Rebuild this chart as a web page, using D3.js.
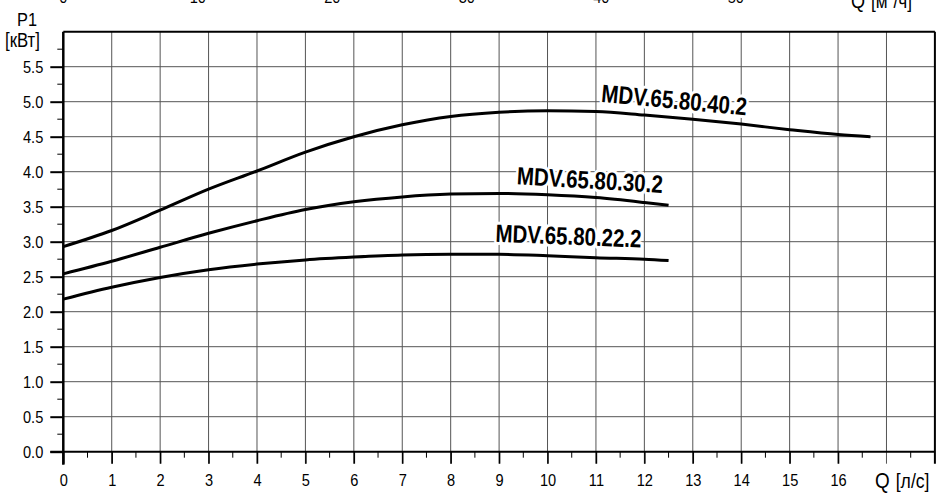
<!DOCTYPE html>
<html>
<head>
<meta charset="utf-8">
<script src="https://cdn.jsdelivr.net/npm/d3@7"></script>
<style>
  html, body { margin: 0; padding: 0; background: #fff; }
  svg { display: block; }
  text { font-family: "Liberation Sans", Arial, sans-serif; fill: #000; }
</style>
</head>
<body>
<svg id="chart" width="937" height="497"></svg>
<script>
// ---- data ----
const flowLs = [0, 1, 2, 3, 4, 5, 6, 7, 8, 9, 10, 11, 12, 12.5];
const flowLs40 = [0, 1, 2, 3, 4, 5, 6, 7, 8, 9, 10, 11, 12, 13, 14, 15, 16, 16.67];
const power40 = [2.93, 3.16, 3.45, 3.75, 4.01, 4.28, 4.50, 4.67, 4.79, 4.85, 4.87, 4.86, 4.81, 4.75, 4.68, 4.60, 4.53, 4.50];
const power30 = [2.54, 2.72, 2.92, 3.12, 3.30, 3.46, 3.57, 3.64, 3.68, 3.69, 3.67, 3.63, 3.56, 3.52];
const power22 = [2.18, 2.35, 2.49, 2.60, 2.68, 2.74, 2.78, 2.81, 2.82, 2.82, 2.80, 2.77, 2.75, 2.73];
const seriesNames = ["MDV.65.80.40.2", "MDV.65.80.30.2", "MDV.65.80.22.2"];
const xTicks = [0,1,2,3,4,5,6,7,8,9,10,11,12,13,14,15,16];
const xMinorTicks = [0.5,1.5,2.5,3.5,4.5,5.5,6.5,7.5,8.5,9.5,10.5,11.5,12.5,13.5,14.5,15.5,16.5,17.5];
const yTicks = [0,0.5,1,1.5,2,2.5,3,3.5,4,4.5,5,5.5];
const yMinorTicks = [0.25,0.75,1.25,1.75,2.25,2.75,3.25,3.75,4.25,4.75,5.25,5.75];
const topTicksM3h = [0, 10, 20, 30, 40, 50];

// ---- layout ----
const K = 0.86; // horizontal condensing of the narrow font
const svg = d3.select("#chart");
const x = d3.scaleLinear().domain([0, 18]).range([63.3, 934.9]);
const y = d3.scaleLinear().domain([0, 6]).range([451.7, 31.7]);

function narrowText(parent, px, py, size, str, anchor) {
  return parent.append("text")
    .attr("transform", `translate(${px},${py}) scale(${K},1)`)
    .attr("font-size", size)
    .attr("text-anchor", anchor || "start")
    .text(str);
}

// grid
const grid = svg.append("g").attr("stroke", "#555").attr("stroke-width", 1);
grid.selectAll("line.v").data(d3.range(1, 18)).join("line")
  .attr("x1", d => x(d)).attr("x2", d => x(d))
  .attr("y1", y(6)).attr("y2", y(0) + 12);
grid.selectAll("line.h").data(yTicks.filter(d => d > 0)).join("line")
  .attr("x1", x(0)).attr("x2", x(18))
  .attr("y1", d => y(d)).attr("y2", d => y(d));

// borders
svg.append("line").attr("x1", x(0)).attr("x2", x(18)).attr("y1", y(6)).attr("y2", y(6)).attr("stroke", "#000").attr("stroke-width", 2);
svg.append("line").attr("x1", x(18)).attr("x2", x(18)).attr("y1", y(6)).attr("y2", y(0) + 12).attr("stroke", "#000").attr("stroke-width", 2);

// bottom axis
const xAxis = svg.append("g").attr("transform", `translate(0,${y(0)})`)
  .call(d3.axisBottom(x).tickValues(xTicks).tickSize(12).tickPadding(10).tickFormat(d3.format("d")));
xAxis.select(".domain").remove();
xAxis.selectAll(".tick line").attr("stroke", "#000").attr("stroke-width", 1.5);
xAxis.selectAll(".tick text").attr("font-size", 17).style("font-family", null)
  .attr("transform", `scale(${K},1)`);
svg.append("g").selectAll("line").data(xMinorTicks).join("line")
  .attr("x1", d => x(d)).attr("x2", d => x(d))
  .attr("y1", y(0)).attr("y2", y(0) + 6)
  .attr("stroke", "#000").attr("stroke-width", 1);
svg.append("line").attr("x1", x(0) - 13).attr("x2", x(18)).attr("y1", y(0)).attr("y2", y(0))
  .attr("stroke", "#000").attr("stroke-width", 2);

// left axis
const yAxis = svg.append("g").attr("transform", `translate(${x(0)},0)`)
  .call(d3.axisLeft(y).tickValues(yTicks).tickSize(13).tickPadding(7).tickFormat(d3.format(".1f")));
yAxis.select(".domain").remove();
yAxis.selectAll(".tick line").attr("stroke", "#000").attr("stroke-width", 2);
yAxis.selectAll(".tick text").attr("font-size", 17).style("font-family", null)
  .attr("x", -20 / K).attr("transform", `scale(${K},1)`);
svg.append("g").selectAll("line").data(yMinorTicks).join("line")
  .attr("x1", x(0) - 6).attr("x2", x(0))
  .attr("y1", d => y(d)).attr("y2", d => y(d))
  .attr("stroke", "#000").attr("stroke-width", 1);
svg.append("line").attr("x1", x(0)).attr("x2", x(0)).attr("y1", y(6)).attr("y2", y(0) + 13)
  .attr("stroke", "#000").attr("stroke-width", 2.5);

// top axis (m3/h), partly cut at the top of the page as in the original
const topG = svg.append("g");
topTicksM3h.forEach(v => narrowText(topG, x(v / 3.6), 3, 17, String(v), "middle"));
const qTop = narrowText(svg, 851, 8, 21, "", "start");
qTop.append("tspan").text("Q");
qTop.append("tspan").attr("dx", 7).attr("font-size", 20).text("[м");
qTop.append("tspan").attr("font-size", 12).attr("dy", -8).text("3");
qTop.append("tspan").attr("font-size", 20).attr("dy", 8).text("/ч]");

// axis titles
narrowText(svg, 17, 26, 19, "P1");
narrowText(svg, 5, 47, 19.5, "[кВт]");
const qBot = narrowText(svg, 875, 488, 22, "");
qBot.append("tspan").text("Q");
qBot.append("tspan").attr("dx", 7).attr("font-size", 20.5).text("[л/с]");

// curves
const line = d3.line().x(d => x(d[0])).y(d => y(d[1])).curve(d3.curveMonotoneX);
const curves = [
  d3.zip(flowLs40, power40),
  d3.zip(flowLs, power30),
  d3.zip(flowLs, power22)
];
svg.append("g").selectAll("path").data(curves).join("path")
  .attr("d", line).attr("fill", "none").attr("stroke", "#000").attr("stroke-width", 3)
  .attr("stroke-linecap", "butt");

// curve labels
const labelPos = [
  { q: 11.1, p: 5.0, ang: 5.4 },
  { q: 9.36, p: 3.82, ang: 3.4 },
  { q: 8.92, p: 3.0, ang: 2.3 }
];
svg.append("g").selectAll("text").data(seriesNames).join("text")
  .attr("transform", (d, i) => `translate(${x(labelPos[i].q)},${y(labelPos[i].p)}) rotate(${labelPos[i].ang})`)
  .attr("font-size", 25).attr("font-weight", "bold")
  .attr("textLength", 146).attr("lengthAdjust", "spacingAndGlyphs")
  .attr("stroke", "#fff").attr("stroke-width", 6).attr("paint-order", "stroke")
  .attr("stroke-linejoin", "round")
  .text(d => d);
</script>
</body>
</html>
